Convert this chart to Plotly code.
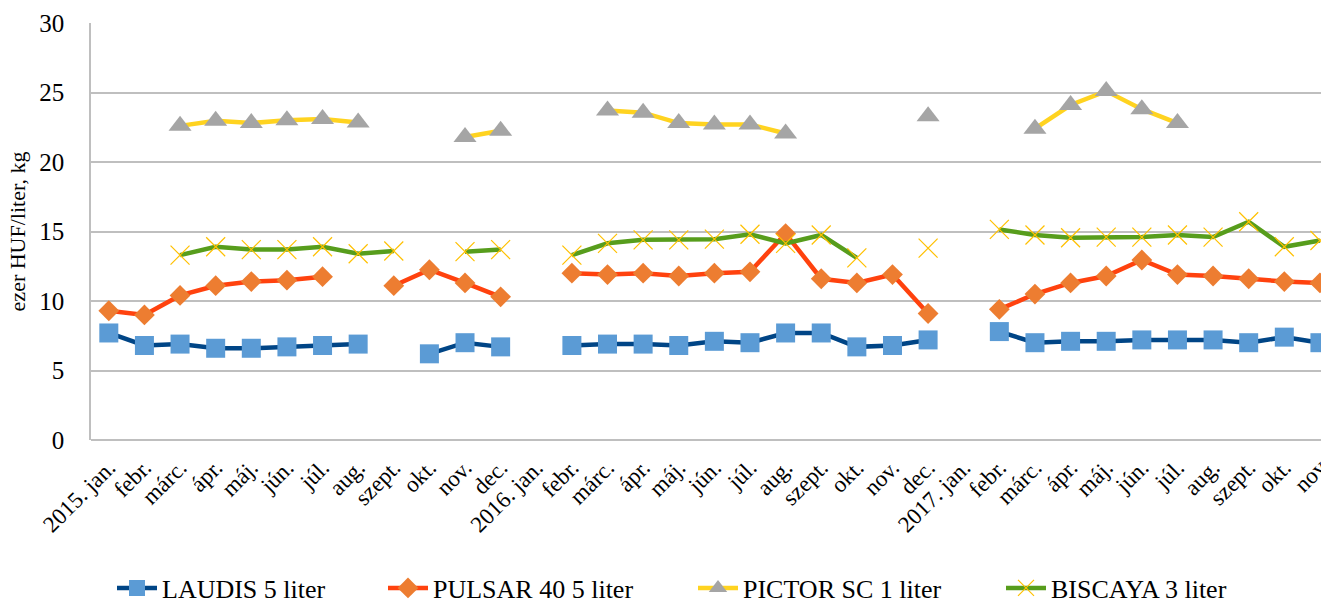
import plotly.graph_objects as go

months = ["jan.", "febr.", "márc.", "ápr.", "máj.", "jún.", "júl.", "aug.", "szept.", "okt.", "nov.", "dec."]
categories = (["2015. jan."] + months[1:] + ["2016. jan."] + months[1:] + ["2017. jan."] + months[1:10] + ["nov"])

laudis = [7.7, 6.8, 6.9, 6.6, 6.6, 6.7, 6.8, 6.9, None, 6.2, 7.0, 6.7,
          None, 6.8, 6.9, 6.9, 6.8, 7.1, 7.0, 7.7, 7.7, 6.7, 6.8, 7.2,
          None, 7.8, 7.0, 7.1, 7.1, 7.2, 7.2, 7.2, 7.0, 7.4, 7.0]
pulsar = [9.3, 9.0, 10.4, 11.1, 11.4, 11.5, 11.75, None, 11.1, 12.25, 11.3, 10.3,
          None, 12.0, 11.9, 12.0, 11.8, 12.0, 12.1, 14.85, 11.6, 11.3, 11.9, 9.1,
          None, 9.4, 10.5, 11.3, 11.8, 12.95, 11.9, 11.8, 11.6, 11.4, 11.3]
pictor = [None, None, 22.6, 22.97, 22.8, 23.0, 23.1, 22.85, None, None, 21.8, 22.25,
          None, None, 23.7, 23.55, 22.8, 22.7, 22.7, 22.05, None, None, None, 23.3,
          None, None, 22.4, 24.1, 25.1, 23.8, 22.8, None, None, None, None]
biscaya = [None, None, 13.3, 13.9, 13.7, 13.7, 13.9, 13.4, 13.6, None, 13.55, 13.7,
           None, 13.3, 14.15, 14.4, 14.4, 14.45, 14.8, 14.15, 14.75, 13.1, None, 13.8,
           None, 15.15, 14.75, 14.55, 14.6, 14.6, 14.75, 14.6, 15.7, 13.9, 14.35]

series_names = ["LAUDIS 5 liter", "PULSAR 40 5 liter", "PICTOR SC 1 liter", "BISCAYA 3 liter"]

FONT = "Liberation Serif, Times New Roman, serif"
xpos = list(range(len(categories)))

PLOT_L, PLOT_W = 91, 1230
def px_to_paper(px):
    return (px - PLOT_L) / PLOT_W

fig = go.Figure()
fig.add_trace(go.Scatter(
    x=xpos, y=laudis, name=series_names[0], mode="lines+markers", legend="legend",
    line=dict(color="#004586", width=4.5),
    marker=dict(symbol="square", size=19, color="#5B9BD5", line=dict(width=0)),
    connectgaps=False))
fig.add_trace(go.Scatter(
    x=xpos, y=pulsar, name=series_names[1], mode="lines+markers", legend="legend2",
    line=dict(color="#FF420E", width=4.5),
    marker=dict(symbol="diamond", size=16, color="#ED7D31", line=dict(width=0)),
    connectgaps=False))
fig.add_trace(go.Scatter(
    x=xpos, y=pictor, name=series_names[2], mode="lines+markers", legend="legend3",
    line=dict(color="#FFD320", width=4.5),
    marker=dict(symbol="triangle-up", size=20, color="#A5A5A5", line=dict(width=0)),
    connectgaps=False))
fig.add_trace(go.Scatter(
    x=xpos, y=biscaya, name=series_names[3], mode="lines+markers", legend="legend4",
    line=dict(color="#579D1C", width=4.5),
    marker=dict(symbol="x-thin", size=19, color="#FFC000", line=dict(width=1.2, color="#FFC000")),
    connectgaps=False))

legend_common = dict(orientation="h", xanchor="left", y=(440 - 588) / 417, yanchor="middle",
                     font=dict(family=FONT, size=26, color="black"),
                     itemwidth=40, bgcolor="rgba(0,0,0,0)")
legend_left_px = [112, 383, 693, 1001]

fig.update_layout(
    width=1321, height=603,
    margin=dict(l=91, r=0, t=23, b=163, autoexpand=False),
    paper_bgcolor="white", plot_bgcolor="white",
    font=dict(family=FONT, color="black", size=22),
    showlegend=True,
    legend=dict(x=px_to_paper(legend_left_px[0]), **legend_common),
    legend2=dict(x=px_to_paper(legend_left_px[1]), **legend_common),
    legend3=dict(x=px_to_paper(legend_left_px[2]), **legend_common),
    legend4=dict(x=px_to_paper(legend_left_px[3]), **legend_common),
)
fig.update_xaxes(
    range=[-0.5, 34.03], tickangle=-45,
    tickmode="array", tickvals=xpos, ticktext=categories,
    tickfont=dict(family=FONT, size=23, color="black"),
    ticklabeloverflow="allow",
    showgrid=False, showline=False, zeroline=False,
    ticks="outside", ticklen=4, tickcolor="rgba(0,0,0,0)",
    automargin=False,
)
fig.update_yaxes(
    range=[0, 30], dtick=5, tick0=0,
    tickfont=dict(family=FONT, size=25, color="black"),
    showgrid=True, gridcolor="#BFBFBF", gridwidth=1.5,
    zeroline=True, zerolinecolor="#BFBFBF", zerolinewidth=1.5,
    showline=True, linecolor="#BFBFBF", linewidth=1.5,
    ticks="outside", ticklen=20, tickcolor="rgba(0,0,0,0)",
    automargin=False,
    title=dict(text="ezer HUF/liter, kg", font=dict(family=FONT, size=22, color="black"), standoff=8),
)

fig.write_html("out.html", config={"displayModeBar": False},
               post_script="document.body.style.margin='0';document.body.style.overflow='hidden';")
